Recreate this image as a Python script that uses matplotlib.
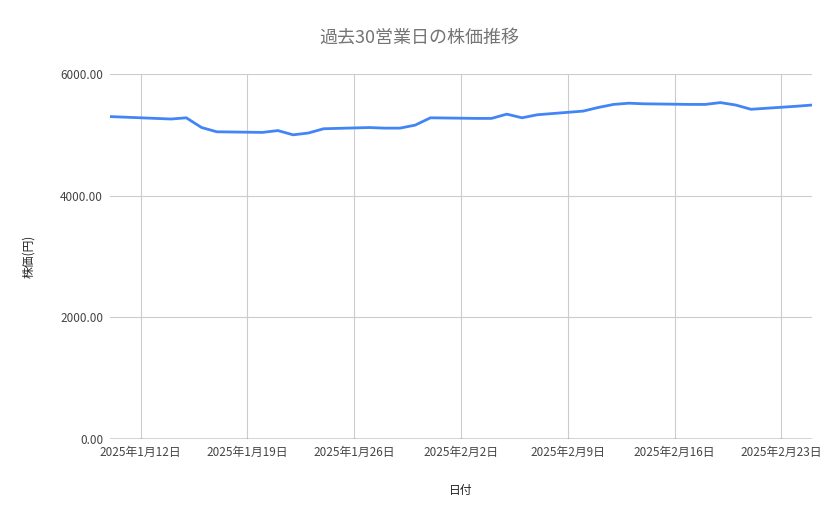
import matplotlib
matplotlib.use("Agg")
import matplotlib.pyplot as plt
import matplotlib.dates as mdates
import pandas as pd
import numpy as np

plt.rcParams['font.family'] = ['Noto Sans CJK JP', 'DejaVu Sans']

dates = pd.to_datetime([
    "2025-01-10","2025-01-13","2025-01-14","2025-01-15","2025-01-16","2025-01-17",
    "2025-01-20","2025-01-21","2025-01-22","2025-01-23","2025-01-24",
    "2025-01-27","2025-01-28","2025-01-29","2025-01-30","2025-01-31",
    "2025-02-03","2025-02-04","2025-02-05","2025-02-06","2025-02-07",
    "2025-02-10","2025-02-11","2025-02-12","2025-02-13","2025-02-14",
    "2025-02-17","2025-02-18","2025-02-19","2025-02-20","2025-02-21",
    "2025-02-24","2025-02-25"])
prices = [5300, 5270, 5260, 5280, 5120, 5050,
          5040, 5070, 5000, 5030, 5100,
          5120, 5110, 5110, 5160, 5280,
          5270, 5270, 5340, 5280, 5330,
          5390, 5450, 5500, 5520, 5510,
          5500, 5500, 5530, 5490, 5420,
          5470, 5490]
tick_dates = pd.to_datetime(["2025-01-12","2025-01-19","2025-01-26","2025-02-02",
                             "2025-02-09","2025-02-16","2025-02-23"])
tick_labels = [f"{d.year}年{d.month}月{d.day}日" for d in tick_dates]
yticks = [0, 2000, 4000, 6000]

fig = plt.figure(figsize=(8.39, 5.19), dpi=100)
ax = fig.add_axes([110/839, 1-439/519, 702/839, 365/519])
ax.plot(dates, prices, color="#4285F4", lw=2)
ax.set_xlim(dates[0], dates[-1])
ax.set_ylim(0, 6000)
ax.set_xticks(tick_dates)
ax.set_xticklabels(tick_labels, fontsize=8.5, color="#444444")
ax.set_yticks(yticks)
ax.set_yticklabels([f"{v:.2f}" for v in yticks], fontsize=8.5, color="#444444")
ax.grid(True, color="#cccccc", lw=0.8)
ax.tick_params(length=0, pad=5)
for s in ax.spines.values():
    s.set_visible(False)
ax.axhline(0, color="#333333", lw=1)
ax.set_xlabel("日付", fontsize=8.5, color="#222222", labelpad=18)
ax.set_ylabel("株価(円)", fontsize=8.5, color="#222222", labelpad=18)
fig.text(0.5, 1-38/519, "過去30営業日の株価推移", ha="center", va="center",
         fontsize=13, color="#757575")
fig.savefig("out.png", dpi=100)
